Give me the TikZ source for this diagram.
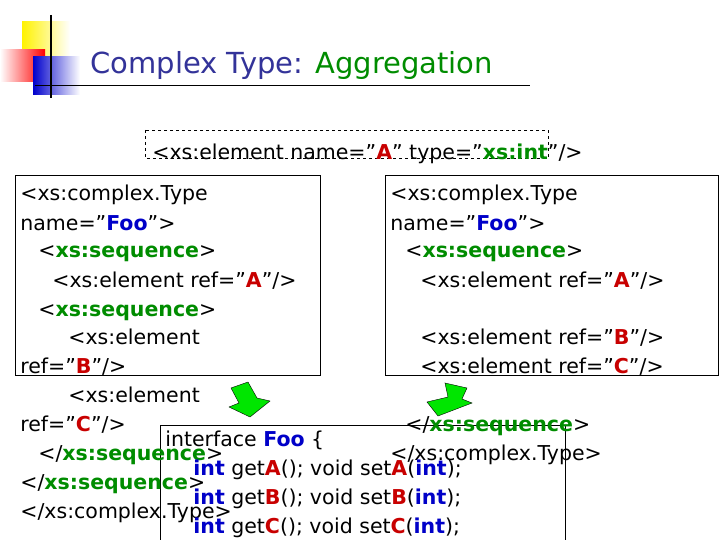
\documentclass[tikz,border=0pt]{standalone}
\usepackage{fontspec}
\setmainfont{DejaVu Sans}
\usetikzlibrary{positioning}
\definecolor{xsgreen}{RGB}{0,140,0}
\definecolor{xsred}{RGB}{200,0,0}
\definecolor{xsblue}{RGB}{0,0,200}
\definecolor{titleblue}{RGB}{51,51,153}
\newcommand\gr[1]{\textcolor{xsgreen}{\textbf{#1}}}
\newcommand\rd[1]{\textcolor{xsred}{\textbf{#1}}}
\newcommand\bl[1]{\textcolor{xsblue}{\textbf{#1}}}
\newcommand\q{\symbol{34}}
\tikzset{every picture/.style={line width=0.75pt}}
\tikzset{code/.style={anchor=base west,inner sep=0pt,font=\fontsize{20.5}{24}\selectfont}}
\tikzset{blockarrow/.style={fill={rgb,255:red,0;green,230;blue,0},draw=black,line width=0.4pt}}
\begin{document}
\begin{tikzpicture}[x=1pt,y=1pt,yscale=-1,xscale=1]
\useasboundingbox (0,0) rectangle (720,540);

%Logo
\shade[top color=yellow!90!orange,bottom color=yellow!90!orange,right color=white] (22,22) rectangle (70,58);
\shade[left color=white,right color=red] (0,50) rectangle (45,82);
\shade[left color=blue!80!black,right color=white] (33,57) rectangle (80,95);
\draw[line width=1.5pt] (51,15) -- (51,98);
\draw[line width=1pt] (35,86) -- (530,86);

% Title
\node[anchor=base west,inner sep=0pt,font=\fontsize{29}{34}\selectfont] (title) at (90,74) {\textcolor{titleblue}{Complex Type:} \textcolor{xsgreen}{Aggregation}};

% Boxes
\draw[dashed] (145,130) rectangle (548,158);
\draw (15,175) rectangle (320,375);
\draw (385,175) rectangle (718,375);
\draw (160,425) -- (565,425) -- (565,540);
\draw (160,425) -- (160,540);

% Arrows
\draw[blockarrow] (231,388) -- (248,382) -- (257,398) -- (270,401) -- (250,417) -- (229,407) -- (239,403) -- cycle;
\draw[blockarrow] (467,388) -- (445,383) -- (448,397) -- (427,402) -- (438,416) -- (472,403) -- (462,399) -- cycle;

% Element
\node[code] (elem) at (152,160) {<xs:element name=\q\rd{A}\q{} type=\q\gr{xs:int}\q/>};

% Left code
\node[code] (l1) at (20,201) {<xs:complex.Type};
\node[code] (l2) at (20,230) {name=\q\bl{Foo}\q>};
\node[code] (l3) at (38,258) {<\gr{xs:sequence}>};
\node[code] (l4) at (52,287) {<xs:element ref=\q\rd{A}\q/>};
\node[code] (l5) at (38,316) {<\gr{xs:sequence}>};
\node[code] (l6) at (68,344) {<xs:element};
\node[code] (l7) at (20,373) {ref=\q\rd{B}\q/>};
\node[code] (l8) at (68,402) {<xs:element};
\node[code] (l9) at (20,431) {ref=\q\rd{C}\q/>};
\node[code] (l10) at (38,460) {</\gr{xs:sequence}>};
\node[code] (l11) at (20,489) {</\gr{xs:sequence}>};
\node[code] (l12) at (20,518) {</xs:complex.Type>};

% Right code
\node[code] (r1) at (390,201) {<xs:complex.Type};
\node[code] (r2) at (390,230) {name=\q\bl{Foo}\q>};
\node[code] (r3) at (405,258) {<\gr{xs:sequence}>};
\node[code] (r4) at (420,287) {<xs:element ref=\q\rd{A}\q/>};
\node[code] (r5) at (420,344) {<xs:element ref=\q\rd{B}\q/>};
\node[code] (r6) at (420,373) {<xs:element ref=\q\rd{C}\q/>};
\node[code] (r7) at (405,431) {</\gr{xs:sequence}>};
\node[code] (r8) at (390,460) {</xs:complex.Type>};

% Interface
\node[code] (i1) at (165,446) {interface \bl{Foo} \{};
\node[code] (i2) at (193,475) {\bl{int} get\rd{A}(); void set\rd{A}(\bl{int});};
\node[code] (i3) at (193,504) {\bl{int} get\rd{B}(); void set\rd{B}(\bl{int});};
\node[code] (i4) at (193,533) {\bl{int} get\rd{C}(); void set\rd{C}(\bl{int});};

\end{tikzpicture}
\end{document}
